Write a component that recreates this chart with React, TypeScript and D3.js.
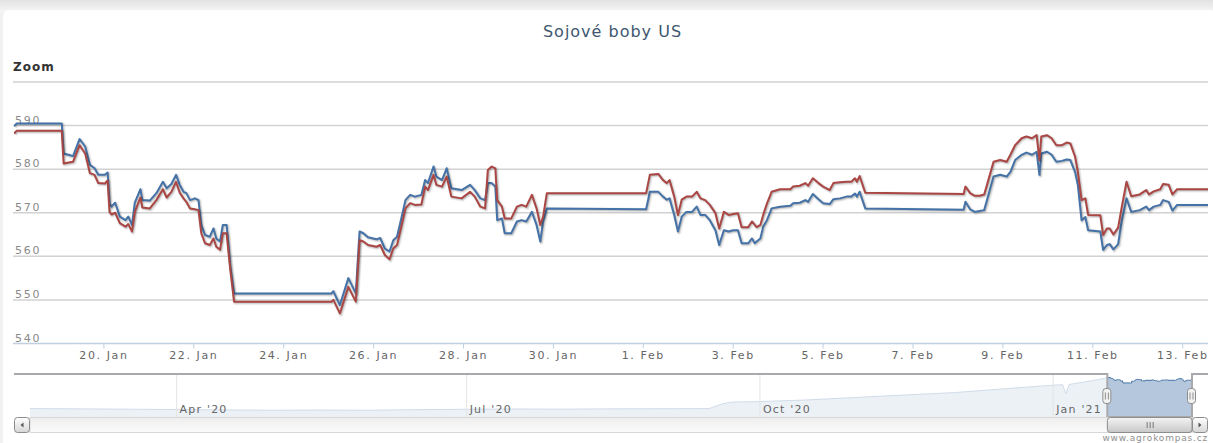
import React, { useEffect, useRef } from "react";
import * as d3 from "d3";

const TITLE = "Sojové boby US";
const ZOOM_LABEL = "Zoom";
const CREDITS = "www.agrokompas.cz";

// main series: hours after START, blue and red contract prices
const START = "2021-01-18T00:00";
const hours = [
  0, 1.5, 25.5, 26.5, 30, 31.5, 35, 38, 40.5, 43, 45, 48.5, 50, 51, 52, 54, 56.5, 59.5, 61, 63,
  64.5, 67.5, 68.5, 72.5, 76, 79.5, 81.5, 84, 86.5, 88.5, 90.5, 92, 94, 96.5, 98.5, 100, 102,
  104.5, 106.5, 108, 110, 111.5, 113.5, 115.5, 117.5, 169.5, 170.5, 174, 178.5, 182.5, 184.5,
  186.5, 189, 193.5, 195.5, 198, 200.5, 202.5, 204.5, 207, 209, 211.5, 214, 217.5, 219.5, 221,
  224, 225.5, 228.5, 231, 233.5, 239, 243.5, 246, 249, 251.5, 253, 255, 257, 258, 260.5, 262,
  265.5, 268.5, 271, 273.5, 276.5, 279, 281, 282.5, 284.5, 337.5, 339.5, 344, 346.5, 348.5, 350,
  352.5, 354.5, 356.5, 359, 362, 364.5, 366.5, 369, 371.5, 374.5, 376.5, 379, 381.5, 384, 386.5,
  388.5, 392, 394, 395.5, 396.5, 398.5, 400, 402, 404.5, 409, 414.5, 416, 419.5, 422.5, 424,
  426.5, 429.5, 432, 435.5, 437.5, 441, 444.5, 447, 449, 450, 451.5, 454.5, 507, 508, 510.5, 513,
  515.5, 518, 519.5, 523, 526.5, 530, 532, 534.5, 538, 540.5, 543.5, 546, 547.5, 548.5, 551.5,
  554, 556.5, 559.5, 562, 564, 566.5, 568, 570, 572, 573.5, 580, 581.5, 583.5, 585, 587, 589.5,
  591.5, 594, 596.5, 601, 604.5, 606, 608.5, 612, 613.5, 616.5, 618.5, 621, 637.5,
];
const blueValues = [
  589.9, 590.5, 590.5, 583.6, 583.2, 583.0, 586.9, 585.2, 581.0, 580.2, 578.7, 578.7, 579.2,
  572.2, 571.4, 572.3, 569.1, 568.3, 569.1, 567.2, 572.3, 575.4, 572.9, 572.8, 574.5, 577.1,
  575.6, 576.6, 578.7, 576.4, 574.8, 574.5, 572.9, 573.3, 572.9, 567.2, 564.9, 564.5, 566.4,
  564.1, 563.4, 567.2, 567.2, 557.6, 551.5, 551.5, 552.0, 548.8, 555.0, 551.5, 565.7, 565.3,
  564.4, 563.9, 564.2, 561.8, 561.1, 563.7, 564.5, 569.1, 572.9, 574.1, 573.7, 574.1, 577.5,
  576.8, 580.6, 578.3, 577.5, 580.2, 575.6, 575.2, 576.4, 575.2, 573.3, 572.9, 576.8, 576.8,
  576.0, 568.3, 568.7, 565.3, 565.3, 568.0, 568.3, 568.0, 570.2, 567.2, 563.4, 568.0, 571.0,
  570.8, 574.8, 574.8, 573.7, 573.0, 573.3, 569.5, 565.7, 569.1, 570.2, 570.2, 571.4, 569.5,
  569.5, 568.3, 566.0, 562.6, 566.0, 565.7, 566.0, 566.0, 563.0, 563.0, 564.1, 563.0, 563.4,
  564.1, 566.8, 568.3, 571.0, 571.4, 571.6, 572.2, 572.3, 572.9, 572.5, 574.3, 573.1, 572.2,
  572.0, 573.1, 573.3, 573.7, 573.7, 574.4, 573.7, 574.8, 571.0, 570.7, 572.5, 570.8, 570.2,
  570.4, 570.6, 572.9, 578.3, 578.7, 578.3, 579.4, 582.1, 583.3, 583.8, 583.3, 584.0, 578.7,
  583.6, 584.0, 583.3, 581.7, 581.9, 582.2, 582.1, 579.4, 576.4, 568.3, 569.0, 566.0, 565.7,
  561.5, 562.6, 562.8, 561.6, 562.8, 568.3, 573.3, 570.2, 570.6, 571.4, 570.6, 571.4, 571.8,
  572.9, 572.5, 570.5, 571.8, 571.8,
];
const redValues = [
  588.2, 588.8, 588.8, 581.3, 581.6, 581.7, 585.5, 583.6, 579.1, 578.7, 576.8, 576.7, 577.4,
  570.2, 569.6, 570.0, 567.6, 566.8, 567.4, 565.7, 570.2, 573.5, 571.2, 571.0, 572.9, 575.4,
  573.5, 574.8, 577.1, 574.6, 573.3, 572.5, 571.0, 570.8, 570.6, 565.3, 563.0, 562.6, 564.1,
  562.2, 561.5, 565.3, 565.3, 556.9, 549.6, 549.6, 550.0, 546.9, 553.0, 549.6, 563.7, 563.4,
  562.6, 562.2, 562.6, 560.3, 559.3, 561.8, 562.6, 567.2, 571.0, 572.2, 571.8, 571.9, 576.0,
  575.2, 578.7, 576.4, 576.0, 578.3, 573.7, 573.3, 574.8, 573.7, 571.4, 571.0, 579.8, 580.6,
  580.2, 572.9, 571.4, 568.7, 568.7, 571.4, 571.8, 571.4, 574.1, 571.0, 567.2, 569.1, 574.5,
  574.5, 578.7, 578.9, 577.5, 576.8, 577.5, 573.7, 569.5, 573.0, 573.7, 573.7, 574.8, 573.3,
  572.9, 571.8, 569.9, 566.4, 570.2, 569.5, 569.7, 569.9, 566.7, 566.7, 568.0, 567.2, 566.7,
  567.2, 569.5, 572.1, 574.8, 575.4, 575.4, 576.0, 576.2, 576.8, 576.2, 577.9, 576.8, 576.0,
  575.2, 576.8, 577.0, 577.1, 577.1, 577.9, 577.1, 578.4, 574.6, 574.3, 576.0, 574.5, 573.9,
  573.9, 574.2, 576.4, 581.7, 582.1, 581.7, 583.3, 585.5, 587.1, 587.5, 587.1, 587.8, 582.1,
  587.5, 587.8, 587.1, 585.5, 585.5, 586.1, 585.9, 582.9, 579.4, 572.9, 573.3, 569.5, 569.4,
  564.9, 566.4, 566.4, 565.0, 566.6, 571.4, 577.1, 573.8, 574.2, 575.2, 574.2, 574.9, 575.4,
  576.6, 576.4, 574.2, 575.4, 575.4,
];

const yTicks = [540, 550, 560, 570, 580, 590, 600];
const xTickDays = [
  "2021-01-20", "2021-01-22", "2021-01-24", "2021-01-26", "2021-01-28", "2021-01-30",
  "2021-02-01", "2021-02-03", "2021-02-05", "2021-02-07", "2021-02-09", "2021-02-11", "2021-02-13",
];

// navigator: whole year before the zoomed window
const navDates = [
  "2020-02-15", "2020-03-01", "2020-03-15", "2020-04-01", "2020-04-15", "2020-05-01",
  "2020-05-15", "2020-06-01", "2020-06-15", "2020-07-01", "2020-07-15", "2020-08-01",
  "2020-08-15", "2020-09-01", "2020-09-15", "2020-09-19", "2020-09-22", "2020-10-01",
  "2020-10-15", "2020-11-01", "2020-11-15", "2020-12-01", "2020-12-15", "2021-01-01",
  "2021-01-04", "2021-01-05", "2021-01-06", "2021-01-10", "2021-01-15", "2021-01-17",
];
const navValues = [
  362, 360, 358, 355, 352, 350, 351, 350, 354, 357, 359, 358, 360, 361, 362, 395, 410, 414, 425,
  445, 462, 480, 505, 535, 538, 470, 540, 555, 575, 585,
];
const navTickDays = ["2020-04-01", "2020-07-01", "2020-10-01", "2021-01-01"];
const navYDomain = [300, 610];

const W = 1213;
const H = 443;
const FONT = '"DejaVu Sans", Verdana, sans-serif';
const BLUE = "#4572A7";
const RED = "#AA4643";

export default function App() {
  const ref = useRef<SVGSVGElement>(null);

  useEffect(() => {
    if (!ref.current) return;
    const svg = d3.select(ref.current);
    svg.selectAll("*").remove();

    const plot = { left: 14, right: 1208, top: 82, bottom: 343.5 };
    const nav = { left: 30, right: 1192, top: 375, bottom: 417 };
    const sbH = 16;

    const start = new Date(START);
    const times = hours.map((h) => new Date(start.getTime() + h * 3600e3));
    const parseDay = d3.timeParse("%Y-%m-%d");

    const defs = svg.append("defs");
    const vGrad = (id: string, a: string, b: string) => {
      const g = defs.append("linearGradient").attr("id", id).attr("x1", 0).attr("y1", 0).attr("x2", 0).attr("y2", 1);
      g.append("stop").attr("offset", "0%").attr("stop-color", a);
      g.append("stop").attr("offset", "100%").attr("stop-color", b);
    };
    vGrad("topShade", "#e2e2e2", "#f6f6f6");
    vGrad("track", "#eeeeee", "#fbfbfb");
    vGrad("btn", "#ffffff", "#d6d6d6");
    vGrad("thumb", "#f4f4f4", "#c8c8c8");
    defs.append("clipPath").attr("id", "plotClip").append("rect")
      .attr("x", plot.left).attr("y", plot.top - 10)
      .attr("width", plot.right - plot.left).attr("height", plot.bottom - plot.top + 20);

    // page background + card
    svg.append("rect").attr("width", W).attr("height", H).attr("fill", "#f1f1f1");
    svg.append("rect").attr("width", W).attr("height", 12).attr("fill", "url(#topShade)");
    svg.append("rect").attr("x", 3).attr("y", 10).attr("width", W).attr("height", H).attr("rx", 6).attr("fill", "#fff");

    // title
    svg.append("text").attr("x", W / 2 + 6).attr("y", 37).attr("text-anchor", "middle")
      .attr("font-family", FONT).attr("font-size", 16).attr("letter-spacing", 1)
      .attr("fill", "#3E576F").text(TITLE);
    svg.append("text").attr("x", 13).attr("y", 71).attr("font-family", FONT)
      .attr("font-size", 12).attr("font-weight", "bold").attr("letter-spacing", 1)
      .attr("fill", "#333").text(ZOOM_LABEL);

    // scales
    const x = d3.scaleTime().domain(d3.extent(times) as [Date, Date]).range([plot.left, plot.right]);
    const y = d3.scaleLinear().domain([yTicks[0], yTicks[yTicks.length - 1]]).range([plot.bottom, plot.top]);

    // y grid + labels
    const yg = svg.append("g");
    yTicks.forEach((t) => {
      if (t === yTicks[0]) return;
      yg.append("line").attr("x1", plot.left - 1).attr("x2", plot.right).attr("y1", y(t)).attr("y2", y(t))
        .attr("stroke", "#d2d2d2").attr("stroke-width", 1.5);
    });
    yTicks.filter((t) => t < y.domain()[1]).forEach((t) => {
      yg.append("text").attr("x", 15).attr("y", y(t) - 2).attr("font-family", FONT)
        .attr("font-size", 11).attr("letter-spacing", 1.7).attr("fill", "#8a8a8a").text(String(t));
    });

    // x axis
    const fmt = d3.timeFormat("%-d. %b");
    const xg = svg.append("g");
    xg.append("line").attr("x1", plot.left - 1).attr("x2", plot.right).attr("y1", plot.bottom).attr("y2", plot.bottom)
      .attr("stroke", "#C0D0E0").attr("stroke-width", 1.5);
    xTickDays.map((s) => parseDay(s) as Date).forEach((d) => {
      xg.append("line").attr("x1", x(d)).attr("x2", x(d)).attr("y1", plot.bottom).attr("y2", plot.bottom + 5)
        .attr("stroke", "#C0D0E0");
      xg.append("text").attr("x", x(d)).attr("y", 359).attr("text-anchor", "middle")
        .attr("font-family", FONT).attr("font-size", 11).attr("letter-spacing", 1.6)
        .attr("fill", "#666").text(fmt(d));
    });

    // series with highcharts-like shadow
    const line = d3.line<number>().x((_, i) => x(times[i])).y((v) => y(v));
    const lines = svg.append("g").attr("clip-path", "url(#plotClip)");
    [
      { vals: blueValues, color: BLUE },
      { vals: redValues, color: RED },
    ].forEach((s) => {
      [1, 2, 3].forEach((i) => {
        lines.append("path").datum(s.vals).attr("d", line).attr("fill", "none")
          .attr("stroke", "#000").attr("stroke-opacity", 0.05 * i).attr("stroke-width", 7 - 2 * i)
          .attr("stroke-linejoin", "round").attr("transform", "translate(1,1)");
      });
      lines.append("path").datum(s.vals).attr("d", line).attr("fill", "none")
        .attr("stroke", s.color).attr("stroke-width", 2).attr("stroke-linejoin", "round");
    });

    // navigator
    const navTimes = navDates.map((s) => parseDay(s) as Date).concat(times);
    const navVals = navValues.concat(blueValues);
    const nx = d3.scaleTime().domain([navTimes[0], navTimes[navTimes.length - 1]]).range([nav.left, nav.right]);
    const ny = d3.scaleLinear().domain(navYDomain).range([nav.bottom, nav.top]);
    const ng = svg.append("g");
    const area = d3.area<number>().x((_, i) => nx(navTimes[i])).y0(nav.bottom).y1((v) => ny(v));
    const nline = d3.line<number>().x((_, i) => nx(navTimes[i])).y((v) => ny(v));
    ng.append("path").datum(navVals).attr("d", area).attr("fill", BLUE).attr("fill-opacity", 0.4);
    ng.append("path").datum(navVals).attr("d", nline).attr("fill", "none").attr("stroke", BLUE).attr("stroke-width", 1);

    const selMin = nx(x.domain()[0]);
    const selMax = nx(x.domain()[1]);
    ng.append("rect").attr("x", nav.left).attr("y", nav.top).attr("width", selMin - nav.left)
      .attr("height", nav.bottom - nav.top).attr("fill", "rgba(255,255,255,0.75)");
    ng.append("rect").attr("x", selMax).attr("y", nav.top).attr("width", nav.right - selMax)
      .attr("height", nav.bottom - nav.top).attr("fill", "rgba(255,255,255,0.75)");

    const navFmt = d3.timeFormat("%b '%y");
    navTickDays.map((s) => parseDay(s) as Date).forEach((d) => {
      ng.append("line").attr("x1", nx(d)).attr("x2", nx(d)).attr("y1", nav.top).attr("y2", nav.bottom)
        .attr("stroke", "#e4e4e4");
      ng.append("text").attr("x", nx(d) + 3).attr("y", nav.bottom - 4).attr("font-family", FONT)
        .attr("font-size", 11).attr("letter-spacing", 1.2).attr("fill", "#666").text(navFmt(d));
    });

    // scrollbar
    const sb = svg.append("g");
    sb.append("rect").attr("x", nav.left).attr("y", nav.bottom + 0.5).attr("width", nav.right - nav.left)
      .attr("height", sbH - 1).attr("fill", "url(#track)").attr("stroke", "#d8d8d8");
    const button = (bx: number, dir: number) => {
      sb.append("rect").attr("x", bx + 0.5).attr("y", nav.bottom + 0.5).attr("width", sbH - 1).attr("height", sbH - 1)
        .attr("rx", 3).attr("fill", "url(#btn)").attr("stroke", "#8c8c8c");
      const cx = bx + sbH / 2;
      const cy = nav.bottom + sbH / 2;
      sb.append("path").attr("d", `M${cx - 1.5 * dir},${cy} L${cx + 1.5 * dir},${cy - 2.5} L${cx + 1.5 * dir},${cy + 2.5} Z`)
        .attr("fill", "#555");
    };
    button(nav.left - sbH, 1);
    button(nav.right, -1);
    sb.append("rect").attr("x", selMin).attr("y", nav.bottom + 0.5).attr("width", selMax - selMin)
      .attr("height", sbH - 1).attr("rx", 3).attr("fill", "url(#thumb)").attr("stroke", "#8c8c8c");
    const mid = (selMin + selMax) / 2;
    [-3, 0, 3].forEach((o) => {
      sb.append("line").attr("x1", mid + o + 0.5).attr("x2", mid + o + 0.5)
        .attr("y1", nav.bottom + 5).attr("y2", nav.bottom + sbH - 5).attr("stroke", "#777");
    });

    // outline
    ng.append("path")
      .attr("d", `M${plot.left},${nav.top - 1} L${selMin},${nav.top - 1} L${selMin},${nav.bottom} L${selMax},${nav.bottom} L${selMax},${nav.top - 1} L${plot.right},${nav.top - 1}`)
      .attr("fill", "none").attr("stroke", "#a9a9ad").attr("stroke-width", 2);

    // handles
    const hc = (nav.top + nav.bottom) / 2;
    [selMin, selMax].forEach((hx) => {
      ng.append("rect").attr("x", hx - 4.5).attr("y", hc - 7.5).attr("width", 8).attr("height", 15).attr("rx", 3)
        .attr("fill", "#f2f2f2").attr("stroke", "#8c8c8c");
      [-1.5, 1.5].forEach((o) => {
        ng.append("line").attr("x1", hx + o - 0.5).attr("x2", hx + o - 0.5).attr("y1", hc - 3.5).attr("y2", hc + 3.5)
          .attr("stroke", "#8c8c8c");
      });
    });

    // credits
    svg.append("text").attr("x", plot.right).attr("y", 441).attr("text-anchor", "end")
      .attr("font-family", FONT).attr("font-size", 9).attr("letter-spacing", 0.8)
      .attr("fill", "#909090").text(CREDITS);
  }, []);

  return (
    <div style={{ position: "absolute", left: 0, top: 0 }}>
      <svg ref={ref} width={W} height={H} style={{ display: "block" }} />
    </div>
  );
}
